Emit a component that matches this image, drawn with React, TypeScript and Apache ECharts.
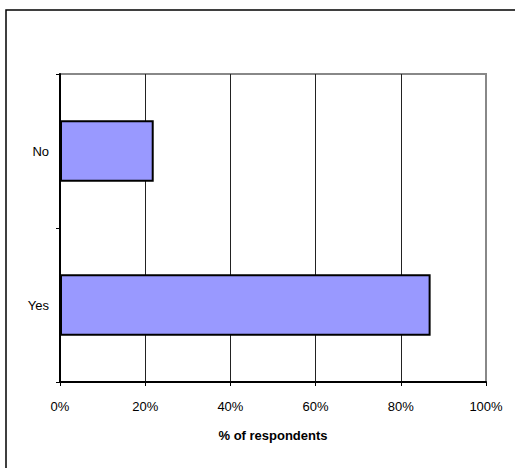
import React, { useEffect, useRef } from "react";
import * as echarts from "echarts";

// Survey answers, bottom to top
const categories = ["Yes", "No"];
const shares = [87, 22];
const tickValues = [0, 20, 40, 60, 80, 100];
const axisTitle = "% of respondents";

const FONT = "'Liberation Sans', Arial, sans-serif";

export default function App() {
  const ref = useRef<HTMLDivElement>(null);

  useEffect(() => {
    if (!ref.current) return;
    const chart = echarts.init(ref.current, null, { renderer: "svg" });
    const last = tickValues.length - 1;
    chart.setOption({
      animation: false,
      backgroundColor: "#ffffff",
      textStyle: { fontFamily: FONT },
      graphic: [
        {
          type: "polyline",
          shape: { points: [[6, 600], [6, 10], [600, 10]] },
          style: { stroke: "#000", lineWidth: 1.5, fill: "none" },
          silent: true,
        },
      ],
      grid: {
        left: 60,
        right: 29,
        top: 74,
        bottom: 86,
        show: true,
        borderColor: "#888",
        borderWidth: 2,
        backgroundColor: "transparent",
      },
      xAxis: {
        type: "value",
        min: tickValues[0],
        max: tickValues[last],
        interval: 20,
        name: axisTitle,
        nameLocation: "middle",
        nameGap: 47,
        nameTextStyle: {
          fontFamily: FONT,
          fontSize: 13,
          fontWeight: "bold",
          color: "#000",
        },
        axisLine: { show: true, lineStyle: { color: "#000", width: 2 } },
        axisTick: { show: true, length: 4, lineStyle: { color: "#000", width: 1 } },
        axisLabel: {
          margin: 18,
          fontSize: 13,
          color: "#000",
          fontFamily: FONT,
          formatter: (v: number) => `${v}%`,
        },
        splitLine: {
          show: true,
          lineStyle: {
            color: tickValues.map((_, i) => (i === last ? "#888" : "#222")),
            width: 1,
          },
        },
      },
      yAxis: {
        type: "category",
        data: categories,
        axisLine: { show: true, lineStyle: { color: "#000", width: 2 } },
        axisTick: { show: true, length: 4, lineStyle: { color: "#000", width: 1 } },
        axisLabel: { margin: 11, fontSize: 13, color: "#000", fontFamily: FONT },
        splitLine: { show: false },
      },
      series: [
        {
          type: "bar",
          data: shares,
          barCategoryGap: "60%",
          itemStyle: { color: "#9999ff", borderColor: "#000", borderWidth: 2 },
        },
      ],
    });
    return () => chart.dispose();
  }, []);

  return (
    <div
      ref={ref}
      style={{ position: "fixed", left: 0, top: 0, width: 515, height: 468 }}
    />
  );
}
